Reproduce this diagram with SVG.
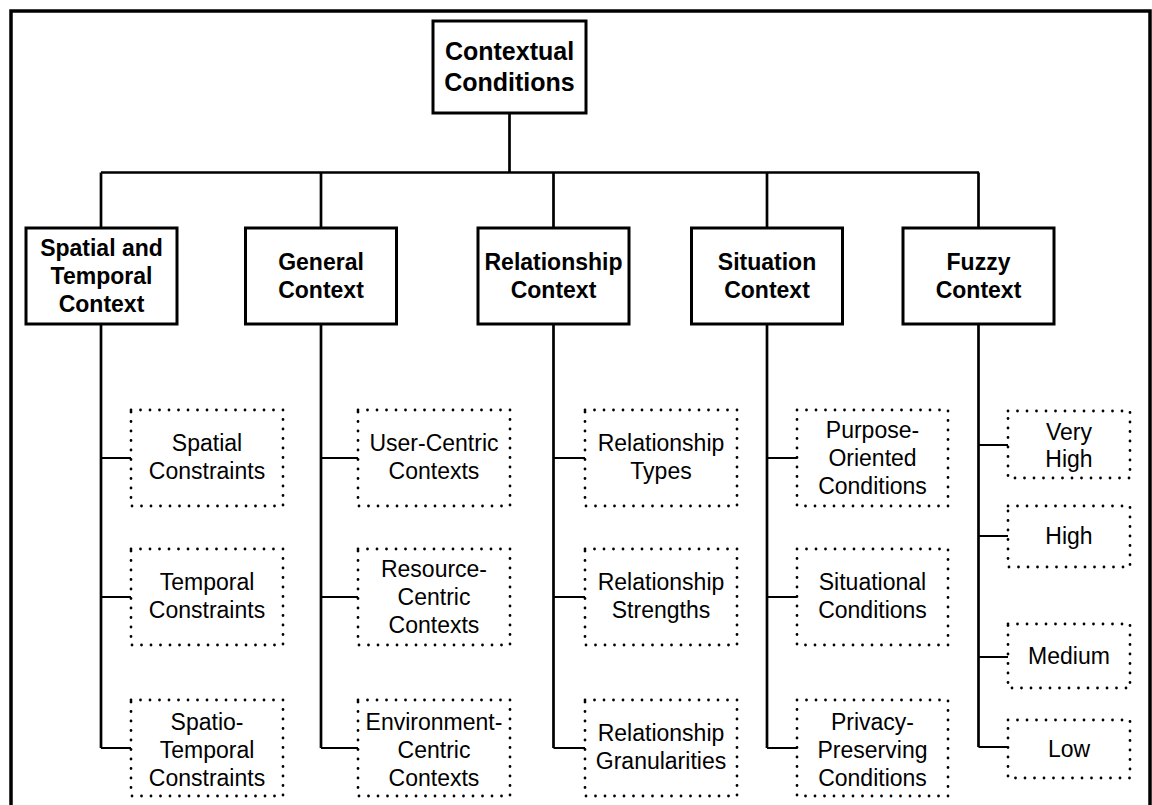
<svg xmlns="http://www.w3.org/2000/svg" width="1152" height="805" viewBox="0 0 1152 805">
  <style>
    .frame { fill: none; stroke: #000; stroke-width: 3.5; }
    .solid { fill: #fff; stroke: #000; stroke-width: 3; }
    .dotted { fill: #fff; stroke: #000; stroke-width: 2.8; stroke-dasharray: 0 9.5; stroke-linecap: round; }
    .wire { fill: none; stroke: #000; stroke-width: 2.7; }
    .branch { fill: none; stroke: #000; stroke-width: 2.2; }
    text { font-family: "Liberation Sans", Arial, sans-serif; fill: #000; text-anchor: middle; }
    .root { font-size: 25px; font-weight: bold; }
    .cat { font-size: 23px; font-weight: bold; }
    .leaf { font-size: 23px; }
  </style>

  <rect width="1152" height="805" fill="#fff"/>
  <path class="frame" d="M11,812 V11 H1150 V812"/>

  <!-- connectors -->
  <g id="connectors">
    <path class="wire" d="M509.5,113 V172.5 M101,172.5 H979 M101,172.5 V228 M321,172.5 V228 M553.5,172.5 V228 M767,172.5 V228 M978.5,172.5 V228"/>
    <path class="wire" d="M101,324 V748 M321,324 V748 M553.5,324 V748 M767,324 V748 M978.5,324 V747"/>
    <path class="branch" d="M101,458 H131 M101,597 H131 M101,748 H131"/>
    <path class="branch" d="M321,458 H358 M321,597 H358 M321,748 H358"/>
    <path class="branch" d="M553.5,458 H585 M553.5,597 H585 M553.5,748 H585"/>
    <path class="branch" d="M767,458 H797 M767,597 H797 M767,748 H797"/>
    <path class="branch" d="M978.5,445 H1008 M978.5,536 H1008 M978.5,657 H1008 M978.5,747 H1008"/>
  </g>

  <!-- root -->
  <g id="contextual-conditions">
    <rect class="solid" x="433" y="21" width="153" height="92"/>
    <text class="root" x="509.5" y="60">Contextual</text>
    <text class="root" x="509.5" y="91">Conditions</text>
  </g>

  <!-- categories -->
  <g id="spatial-temporal-context">
    <rect class="solid" x="26" y="228" width="151" height="96"/>
    <text class="cat" x="101.5" y="256">Spatial and</text>
    <text class="cat" x="101.5" y="284">Temporal</text>
    <text class="cat" x="101.5" y="312">Context</text>
  </g>
  <g id="general-context">
    <rect class="solid" x="245.5" y="228" width="151" height="96"/>
    <text class="cat" x="321" y="270">General</text>
    <text class="cat" x="321" y="298">Context</text>
  </g>
  <g id="relationship-context">
    <rect class="solid" x="478" y="228" width="151" height="96"/>
    <text class="cat" x="553.5" y="270">Relationship</text>
    <text class="cat" x="553.5" y="298">Context</text>
  </g>
  <g id="situation-context">
    <rect class="solid" x="691.5" y="228" width="151" height="96"/>
    <text class="cat" x="767" y="270">Situation</text>
    <text class="cat" x="767" y="298">Context</text>
  </g>
  <g id="fuzzy-context">
    <rect class="solid" x="903" y="228" width="151" height="96"/>
    <text class="cat" x="978.5" y="270">Fuzzy</text>
    <text class="cat" x="978.5" y="298">Context</text>
  </g>

  <!-- spatial and temporal leaves -->
  <g id="spatial-constraints">
    <rect class="dotted" x="131" y="410" width="152" height="96"/>
    <text class="leaf" x="207" y="451">Spatial</text>
    <text class="leaf" x="207" y="479">Constraints</text>
  </g>
  <g id="temporal-constraints">
    <rect class="dotted" x="131" y="549" width="152" height="96"/>
    <text class="leaf" x="207" y="590">Temporal</text>
    <text class="leaf" x="207" y="618">Constraints</text>
  </g>
  <g id="spatio-temporal-constraints">
    <rect class="dotted" x="131" y="700" width="152" height="96"/>
    <text class="leaf" x="207" y="730">Spatio-</text>
    <text class="leaf" x="207" y="758">Temporal</text>
    <text class="leaf" x="207" y="786">Constraints</text>
  </g>

  <!-- general leaves -->
  <g id="user-centric-contexts">
    <rect class="dotted" x="358" y="410" width="152" height="96"/>
    <text class="leaf" x="434" y="451">User-Centric</text>
    <text class="leaf" x="434" y="479">Contexts</text>
  </g>
  <g id="resource-centric-contexts">
    <rect class="dotted" x="358" y="549" width="152" height="96"/>
    <text class="leaf" x="434" y="577">Resource-</text>
    <text class="leaf" x="434" y="605">Centric</text>
    <text class="leaf" x="434" y="633">Contexts</text>
  </g>
  <g id="environment-centric-contexts">
    <rect class="dotted" x="358" y="700" width="152" height="96"/>
    <text class="leaf" x="434" y="730">Environment-</text>
    <text class="leaf" x="434" y="758">Centric</text>
    <text class="leaf" x="434" y="786">Contexts</text>
  </g>

  <!-- relationship leaves -->
  <g id="relationship-types">
    <rect class="dotted" x="585" y="410" width="152" height="96"/>
    <text class="leaf" x="661" y="451">Relationship</text>
    <text class="leaf" x="661" y="479">Types</text>
  </g>
  <g id="relationship-strengths">
    <rect class="dotted" x="585" y="549" width="152" height="96"/>
    <text class="leaf" x="661" y="590">Relationship</text>
    <text class="leaf" x="661" y="618">Strengths</text>
  </g>
  <g id="relationship-granularities">
    <rect class="dotted" x="585" y="700" width="152" height="96"/>
    <text class="leaf" x="661" y="741">Relationship</text>
    <text class="leaf" x="661" y="769">Granularities</text>
  </g>

  <!-- situation leaves -->
  <g id="purpose-oriented-conditions">
    <rect class="dotted" x="797" y="410" width="151" height="96"/>
    <text class="leaf" x="872.5" y="438">Purpose-</text>
    <text class="leaf" x="872.5" y="466">Oriented</text>
    <text class="leaf" x="872.5" y="494">Conditions</text>
  </g>
  <g id="situational-conditions">
    <rect class="dotted" x="797" y="549" width="151" height="96"/>
    <text class="leaf" x="872.5" y="590">Situational</text>
    <text class="leaf" x="872.5" y="618">Conditions</text>
  </g>
  <g id="privacy-preserving-conditions">
    <rect class="dotted" x="797" y="700" width="151" height="96"/>
    <text class="leaf" x="872.5" y="730">Privacy-</text>
    <text class="leaf" x="872.5" y="758">Preserving</text>
    <text class="leaf" x="872.5" y="786">Conditions</text>
  </g>

  <!-- fuzzy leaves -->
  <g id="very-high">
    <rect class="dotted" x="1008" y="411" width="122" height="67"/>
    <text class="leaf" x="1069" y="440">Very</text>
    <text class="leaf" x="1069" y="467">High</text>
  </g>
  <g id="high">
    <rect class="dotted" x="1008" y="506" width="122" height="61"/>
    <text class="leaf" x="1069" y="544">High</text>
  </g>
  <g id="medium">
    <rect class="dotted" x="1008" y="624" width="122" height="64"/>
    <text class="leaf" x="1069" y="664">Medium</text>
  </g>
  <g id="low">
    <rect class="dotted" x="1008" y="720" width="122" height="58"/>
    <text class="leaf" x="1069" y="757">Low</text>
  </g>
</svg>
